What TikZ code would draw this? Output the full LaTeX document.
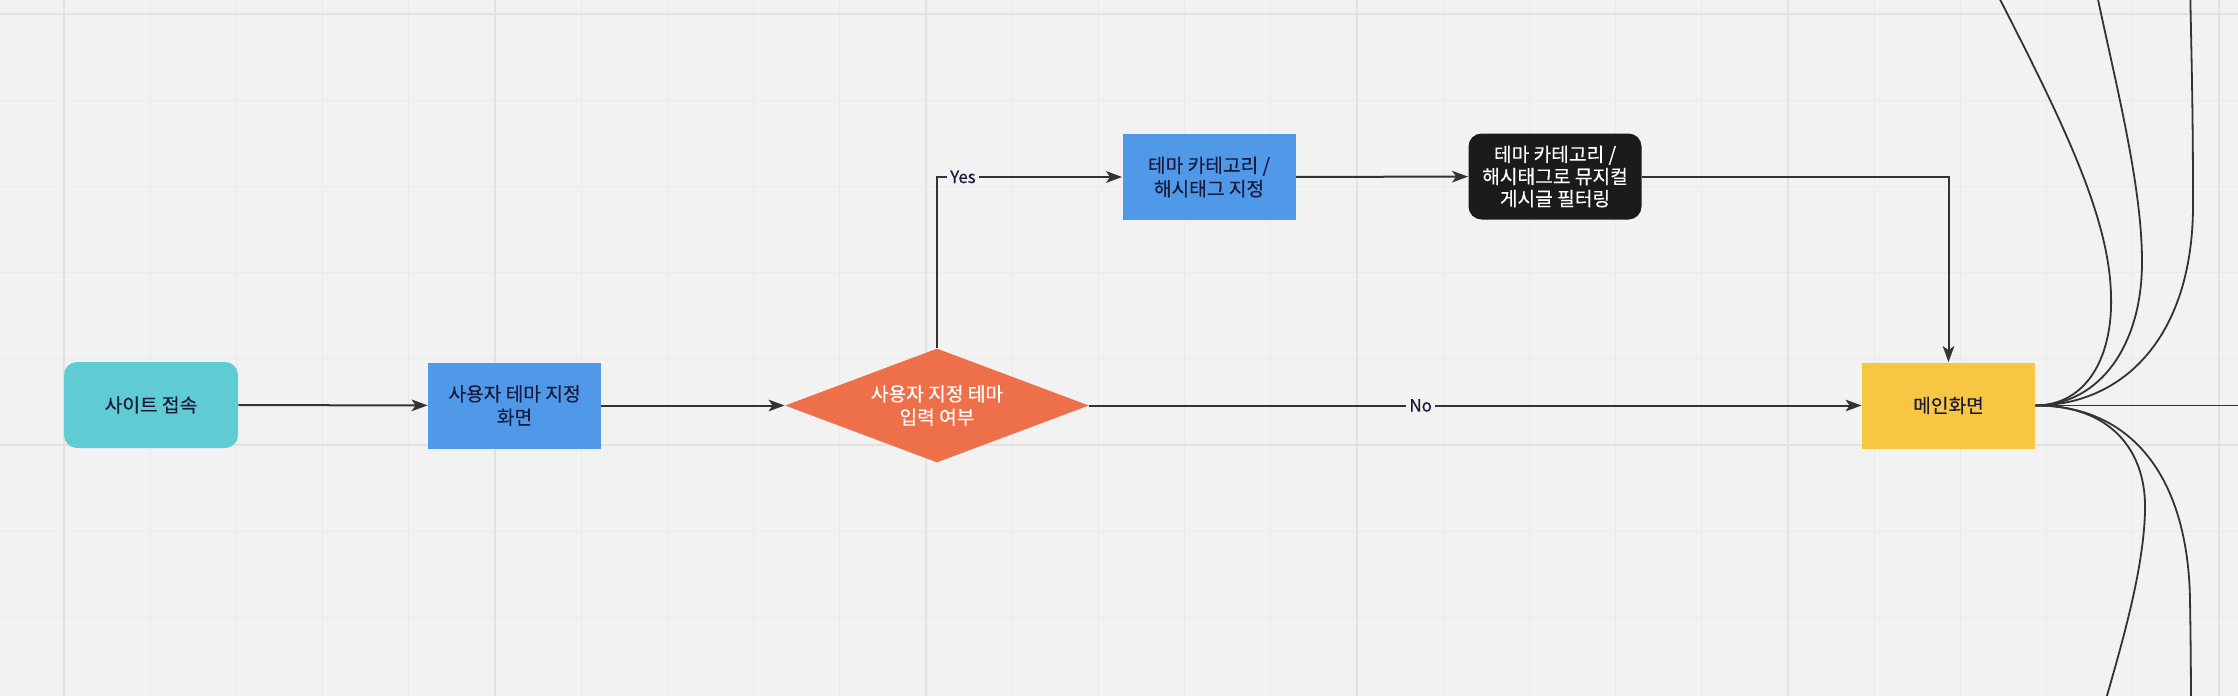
\documentclass[tikz,border=0pt]{standalone}
\usepackage{fontspec}
\setmainfont{Noto Sans CJK KR}[FakeBold=0.35]
\usetikzlibrary{shapes.geometric,arrows.meta}
\definecolor{bgc}{HTML}{F2F2F2}
\definecolor{gridmin}{HTML}{EAEAEA}
\definecolor{gridmaj}{HTML}{E2E2E2}
\definecolor{cteal}{HTML}{5FCBD3}
\definecolor{cblue}{HTML}{5099E9}
\definecolor{corange}{HTML}{EE704A}
\definecolor{cblack}{HTML}{1B1B1B}
\definecolor{cyellow}{HTML}{F7C744}
\definecolor{navy}{HTML}{1A1A3C}
\definecolor{linec}{HTML}{333333}
\tikzset{
  basebox/.style={draw=none, align=center, inner sep=2pt, text=navy,
    minimum width=86.5pt, minimum height=43pt,
    font=\fontsize{9.6}{11.7}\selectfont},
  sqbox/.style={basebox, rectangle},
  rbox/.style={basebox, rectangle, rounded corners=6.5pt},
  decision/.style={diamond, draw=none, fill=corange, text=white, align=center,
    inner sep=0pt, shape aspect=2.67, minimum width=152pt, minimum height=57pt,
    font=\fontsize{9.6}{11.7}\selectfont},
  conn/.style={draw=linec, line width=1pt, -{Stealth[length=8pt,width=5.8pt,inset=2pt]}},
  plainconn/.style={draw=linec, line width=0.9pt},
  lbl/.style={fill=bgc, inner sep=1.6pt, text=navy, font=\fontsize{8.4}{10}\selectfont},
  gminor/.style={draw=gridmin, line width=0.5pt},
  gmajor/.style={draw=gridmaj, line width=1pt}
}
\begin{document}
\begin{tikzpicture}[x=0.5pt,y=-0.5pt]
\fill[bgc] (0,0) rectangle (2238,696);
\useasboundingbox (0,0) rectangle (2238,696);
\clip (0,0) rectangle (2238,696);
% grid
\foreach \k in {-1,...,25} {
  \pgfmathsetmacro\gx{64+86.2*\k}
  \draw[gminor] (\gx,0) -- (\gx,696);
}
\foreach \k in {0,...,8} {
  \pgfmathsetmacro\gy{14+86.2*\k}
  \draw[gminor] (0,\gy) -- (2238,\gy);
}
\foreach \gx in {64,495,926,1357,1788,2219} {
  \draw[gmajor] (\gx,0) -- (\gx,696);
}
\foreach \gy in {14,445} {
  \draw[gmajor] (0,\gy) -- (2238,\gy);
}
% nodes
\node[rbox, fill=cteal, minimum width=87pt] (start) at (151,405) {사이트 접속};
\node[sqbox, fill=cblue] (screen) at (514.5,405.5) {사용자 테마 지정\\화면};
\node[decision] (q) at (937,405.5) {사용자 지정 테마\\입력 여부};
\node[sqbox, fill=cblue] (cat) at (1209,177) {테마 카테고리 /\\해시태그 지정};
\node[rbox, fill=cblack, text=white, font=\fontsize{9.6}{11.1}\selectfont] (filt) at (1555,176.5) {테마 카테고리 /\\해시태그로 뮤지컬\\게시글 필터링};
\node[sqbox, fill=cyellow] (main) at (1948.5,405.5) {메인화면};
% connectors
\draw[conn] (start) -- (screen);
\draw[conn] (screen) -- (q.west);
\draw[conn] (q.north) |- node[lbl, pos=0.57] {Yes} (cat.west);
\draw[conn] (q.east) -- node[lbl, pos=0.429] {No} (main.west);
\draw[conn] (cat) -- (filt);
\draw[conn] (filt.east) -| (main.north);
% outgoing lines from main screen
\coordinate (o0) at (2260,405.5);
\coordinate (o1) at (1990,-20);
\coordinate (o2) at (2094,-20);
\coordinate (o3) at (2190,-20);
\coordinate (o4) at (2100,720);
\coordinate (o5) at (2191,720);
\draw[plainconn] (main.east) -- (o0);
\draw[plainconn] (main.east) .. controls (2088,405) and (2113,355) .. (2111,295)
  .. controls (2109,215) and (2062,120) .. (o1);
\draw[plainconn] (main.east) .. controls (2100,405) and (2142,345) .. (2142,262)
  .. controls (2142,180) and (2112,70) .. (o2);
\draw[plainconn] (main.east) .. controls (2125,405) and (2193,335) .. (2193,205)
  .. controls (2193,100) and (2191,40) .. (o3);
\draw[plainconn] (main.east) .. controls (2112,405) and (2147,452) .. (2145,512)
  .. controls (2143,575) and (2120,650) .. (o4);
\draw[plainconn] (main.east) .. controls (2130,405) and (2188,475) .. (2190,600)
  .. controls (2191,660) and (2191,700) .. (o5);
\end{tikzpicture}
\end{document}
